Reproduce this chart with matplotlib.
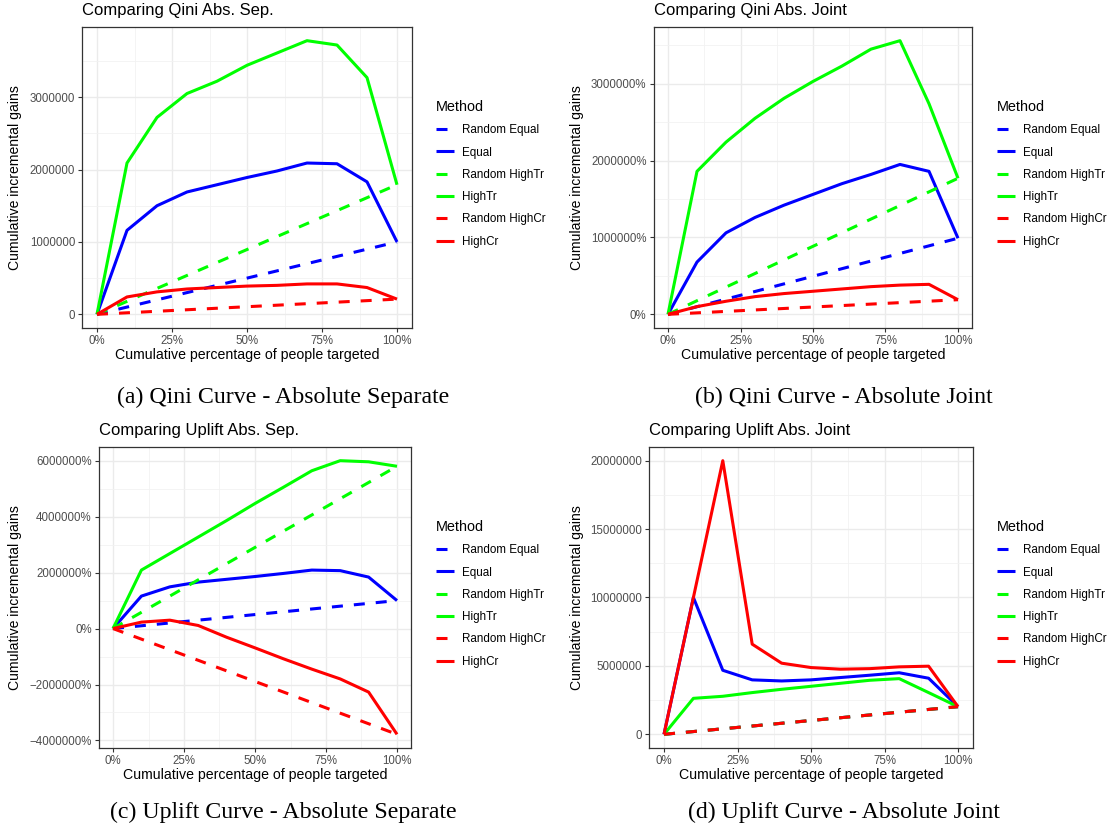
import matplotlib
matplotlib.use('Agg')
import matplotlib.pyplot as plt
from matplotlib.lines import Line2D
from matplotlib.ticker import FuncFormatter, MultipleLocator

plt.rcParams['font.family'] = 'Liberation Sans'

# x: cumulative share of people targeted
pct = [0.0, 0.1, 0.2, 0.3, 0.4, 0.5, 0.6, 0.7, 0.8, 0.9, 1.0]
rand_x = [0.0, 1.0]

# (a) Qini absolute separate
qini_sep_equal = [0, 1160000, 1500000, 1690000, 1790000, 1890000, 1980000, 2090000, 2080000, 1830000, 1000000]
qini_sep_hightr = [0, 2090000, 2720000, 3050000, 3220000, 3440000, 3610000, 3780000, 3720000, 3270000, 1790000]
qini_sep_highcr = [0, 240000, 310000, 350000, 370000, 390000, 400000, 420000, 420000, 370000, 210000]
qini_sep_rand_equal = [0, 1000000]
qini_sep_rand_hightr = [0, 1790000]
qini_sep_rand_highcr = [0, 210000]

# (b) Qini absolute joint
qini_joint_equal = [0, 680000, 1060000, 1260000, 1420000, 1560000, 1700000, 1820000, 1950000, 1860000, 990000]
qini_joint_hightr = [0, 1860000, 2240000, 2550000, 2810000, 3030000, 3230000, 3450000, 3560000, 2740000, 1770000]
qini_joint_highcr = [0, 100000, 170000, 230000, 270000, 300000, 330000, 360000, 380000, 390000, 190000]
qini_joint_rand_equal = [0, 990000]
qini_joint_rand_hightr = [0, 1770000]
qini_joint_rand_highcr = [0, 190000]

# (c) Uplift absolute separate
upl_sep_equal = [0, 1160000, 1490000, 1660000, 1760000, 1860000, 1970000, 2090000, 2070000, 1840000, 1000000]
upl_sep_hightr = [0, 2090000, 2680000, 3270000, 3860000, 4470000, 5050000, 5640000, 6000000, 5960000, 5800000]
upl_sep_highcr = [0, 230000, 300000, 110000, -310000, -690000, -1080000, -1450000, -1800000, -2270000, -3780000]
upl_sep_rand_equal = [0, 1000000]
upl_sep_rand_hightr = [0, 5800000]
upl_sep_rand_highcr = [0, -3780000]

# (d) Uplift absolute joint
upl_joint_equal = [0, 10000000, 4680000, 3980000, 3900000, 3980000, 4150000, 4320000, 4500000, 4100000, 2020000]
upl_joint_hightr = [0, 2630000, 2780000, 3050000, 3290000, 3510000, 3730000, 3950000, 4070000, 3050000, 2020000]
upl_joint_highcr = [0, 10000000, 20000000, 6590000, 5200000, 4880000, 4760000, 4800000, 4930000, 4980000, 2020000]
upl_joint_rand_equal = [0, 2020000]
upl_joint_rand_hightr = [0, 2020000]
upl_joint_rand_highcr = [0, 2020000]

methods = ['Random Equal', 'Equal', 'Random HighTr', 'HighTr', 'Random HighCr', 'HighCr']
colors = ['#0000FF', '#0000FF', '#00FF00', '#00FF00', '#FF0000', '#FF0000']
styles = ['--', '-', '--', '-', '--', '-']

panels = [
    dict(title='Comparing Qini Abs. Sep.', caption='(a) Qini Curve - Absolute Separate',
         series=[qini_sep_rand_equal, qini_sep_equal, qini_sep_rand_hightr, qini_sep_hightr,
                 qini_sep_rand_highcr, qini_sep_highcr],
         x0=97, x1=397, top=27, bottom=328, ylab_x=15, leg=(436, 100), cap=(283, 397),
         major=1000000, pctfmt=False),
    dict(title='Comparing Qini Abs. Joint', caption='(b) Qini Curve - Absolute Joint',
         series=[qini_joint_rand_equal, qini_joint_equal, qini_joint_rand_hightr, qini_joint_hightr,
                 qini_joint_rand_highcr, qini_joint_highcr],
         x0=668, x1=958, top=27, bottom=328, ylab_x=577, leg=(997, 100), cap=(844, 397),
         major=1000000, pctfmt=True),
    dict(title='Comparing Uplift Abs. Sep.', caption='(c) Uplift Curve - Absolute Separate',
         series=[upl_sep_rand_equal, upl_sep_equal, upl_sep_rand_hightr, upl_sep_hightr,
                 upl_sep_rand_highcr, upl_sep_highcr],
         x0=113, x1=397, top=447, bottom=748, ylab_x=15, leg=(436, 520), cap=(283, 812),
         major=2000000, pctfmt=True),
    dict(title='Comparing Uplift Abs. Joint', caption='(d) Uplift Curve - Absolute Joint',
         series=[upl_joint_rand_equal, upl_joint_equal, upl_joint_rand_hightr, upl_joint_hightr,
                 upl_joint_rand_highcr, upl_joint_highcr],
         x0=664, x1=958, top=447, bottom=748, ylab_x=577, leg=(997, 520), cap=(844, 812),
         major=5000000, pctfmt=False),
]

W, H = 1114, 834
fig = plt.figure(figsize=(W / 100, H / 100), dpi=100)
dash_on_off = (3.6, 3.6)


def fmt_plain(v, pos):
    return '%d' % round(v)


def fmt_pct(v, pos):
    s = '%d%%' % round(abs(v))
    return ('\u2212' + s) if v < 0 else s


for p in panels:
    span = p['x1'] - p['x0']
    left = p['x0'] - 0.05 * span
    width = 1.1 * span
    ax = fig.add_axes([left / W, 1 - p['bottom'] / H, width / W, (p['bottom'] - p['top']) / H])
    for i in range(6):
        xs = rand_x if styles[i] == '--' else pct
        ax.plot(xs, p['series'][i], color=colors[i], linestyle=styles[i], lw=2.2,
                dashes=dash_on_off if styles[i] == '--' else (None, None), solid_capstyle='butt')
    ax.set_xlim(-0.05, 1.05)
    ax.set_xticks([0, 0.25, 0.5, 0.75, 1.0])
    ax.set_xticklabels(['0%', '25%', '50%', '75%', '100%'])
    ax.xaxis.set_minor_locator(MultipleLocator(0.125))
    ax.yaxis.set_major_locator(MultipleLocator(p['major']))
    ax.yaxis.set_minor_locator(MultipleLocator(p['major'] / 2))
    ax.yaxis.set_major_formatter(FuncFormatter(fmt_pct if p['pctfmt'] else fmt_plain))
    ax.grid(True, which='major', color='#EBEBEB', lw=1.0)
    ax.grid(True, which='minor', color='#F2F2F2', lw=0.6)
    ax.set_axisbelow(True)
    ax.tick_params(which='major', length=3, width=0.8, color='#333333', labelcolor='#4D4D4D',
                   labelsize=8.3, pad=2)
    ax.tick_params(which='minor', length=0)
    for sp in ax.spines.values():
        sp.set_color('#333333')
        sp.set_linewidth(0.9)
    # 标题、轴标签
    fig.text(left / W, 1 - (p['top'] - 17) / H, p['title'], fontsize=12, ha='left', va='center')
    fig.text((left + width / 2) / W, 1 - (p['bottom'] + 27) / H,
             'Cumulative percentage of people targeted', fontsize=10.2, ha='center', va='center')
    fig.text(p['ylab_x'] / W, 1 - (p['top'] + p['bottom']) / 2 / H, 'Cumulative incremental gains',
             fontsize=10.1, rotation=90, ha='center', va='center')
    # 图例
    handles = [Line2D([], [], color=colors[i], linestyle=styles[i], lw=2.2,
                      dashes=dash_on_off if styles[i] == '--' else (None, None), solid_capstyle='butt')
               for i in range(6)]
    fig.legend(handles, methods, title='Method', loc='upper left',
               bbox_to_anchor=(p['leg'][0] / W, 1 - p['leg'][1] / H), frameon=False,
               fontsize=8.4, title_fontsize=10.4, handlelength=1.5, handletextpad=0.75,
               labelspacing=0.88, borderpad=0, borderaxespad=0, alignment='left')
    # 子图说明
    fig.text(p['cap'][0] / W, 1 - p['cap'][1] / H, p['caption'], fontsize=17.2,
             family='Liberation Serif', ha='center', va='center')

fig.savefig('out.png', dpi=100)
